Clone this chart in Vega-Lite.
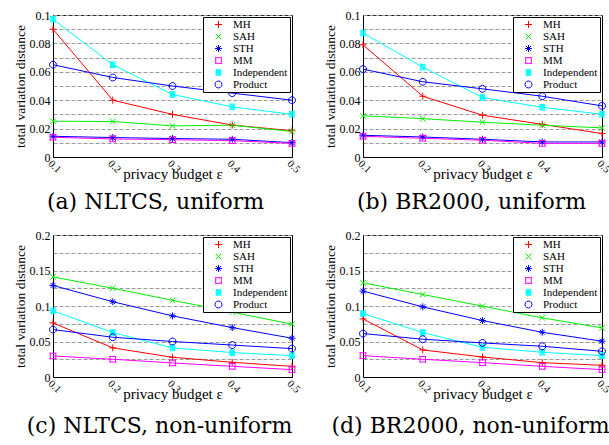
{
  "$schema": "https://vega.github.io/schema/vega-lite/v6.json",
  "background": "white",
  "padding": {"left": 12, "top": 8, "right": 0, "bottom": 0},
  "datasets": {
    "d": [
      {"panel":"a","method":"MH","eps":0.1,"tvd":0.09},
      {"panel":"a","method":"MH","eps":0.2,"tvd":0.040},
      {"panel":"a","method":"MH","eps":0.3,"tvd":0.030},
      {"panel":"a","method":"MH","eps":0.4,"tvd":0.0225},
      {"panel":"a","method":"MH","eps":0.5,"tvd":0.0185},
      {"panel":"a","method":"SAH","eps":0.1,"tvd":0.0252},
      {"panel":"a","method":"SAH","eps":0.2,"tvd":0.0250},
      {"panel":"a","method":"SAH","eps":0.3,"tvd":0.0219},
      {"panel":"a","method":"SAH","eps":0.4,"tvd":0.0224},
      {"panel":"a","method":"SAH","eps":0.5,"tvd":0.018},
      {"panel":"a","method":"STH","eps":0.1,"tvd":0.0146},
      {"panel":"a","method":"STH","eps":0.2,"tvd":0.0137},
      {"panel":"a","method":"STH","eps":0.3,"tvd":0.0130},
      {"panel":"a","method":"STH","eps":0.4,"tvd":0.0125},
      {"panel":"a","method":"STH","eps":0.5,"tvd":0.0101},
      {"panel":"a","method":"MM","eps":0.1,"tvd":0.0139},
      {"panel":"a","method":"MM","eps":0.2,"tvd":0.0127},
      {"panel":"a","method":"MM","eps":0.3,"tvd":0.0122},
      {"panel":"a","method":"MM","eps":0.4,"tvd":0.0115},
      {"panel":"a","method":"MM","eps":0.5,"tvd":0.0096},
      {"panel":"a","method":"Independent","eps":0.1,"tvd":0.097},
      {"panel":"a","method":"Independent","eps":0.2,"tvd":0.065},
      {"panel":"a","method":"Independent","eps":0.3,"tvd":0.044},
      {"panel":"a","method":"Independent","eps":0.4,"tvd":0.0353},
      {"panel":"a","method":"Independent","eps":0.5,"tvd":0.0301},
      {"panel":"a","method":"Product","eps":0.1,"tvd":0.065},
      {"panel":"a","method":"Product","eps":0.2,"tvd":0.056},
      {"panel":"a","method":"Product","eps":0.3,"tvd":0.050},
      {"panel":"a","method":"Product","eps":0.4,"tvd":0.045},
      {"panel":"a","method":"Product","eps":0.5,"tvd":0.040},

      {"panel":"b","method":"MH","eps":0.1,"tvd":0.079},
      {"panel":"b","method":"MH","eps":0.2,"tvd":0.0428},
      {"panel":"b","method":"MH","eps":0.3,"tvd":0.0294},
      {"panel":"b","method":"MH","eps":0.4,"tvd":0.023},
      {"panel":"b","method":"MH","eps":0.5,"tvd":0.0165},
      {"panel":"b","method":"SAH","eps":0.1,"tvd":0.029},
      {"panel":"b","method":"SAH","eps":0.2,"tvd":0.027},
      {"panel":"b","method":"SAH","eps":0.3,"tvd":0.0245},
      {"panel":"b","method":"SAH","eps":0.4,"tvd":0.0224},
      {"panel":"b","method":"SAH","eps":0.5,"tvd":0.0205},
      {"panel":"b","method":"STH","eps":0.1,"tvd":0.0153},
      {"panel":"b","method":"STH","eps":0.2,"tvd":0.0141},
      {"panel":"b","method":"STH","eps":0.3,"tvd":0.0125},
      {"panel":"b","method":"STH","eps":0.4,"tvd":0.0106},
      {"panel":"b","method":"STH","eps":0.5,"tvd":0.0106},
      {"panel":"b","method":"MM","eps":0.1,"tvd":0.0146},
      {"panel":"b","method":"MM","eps":0.2,"tvd":0.0132},
      {"panel":"b","method":"MM","eps":0.3,"tvd":0.0118},
      {"panel":"b","method":"MM","eps":0.4,"tvd":0.0096},
      {"panel":"b","method":"MM","eps":0.5,"tvd":0.0096},
      {"panel":"b","method":"Independent","eps":0.1,"tvd":0.0873},
      {"panel":"b","method":"Independent","eps":0.2,"tvd":0.0633},
      {"panel":"b","method":"Independent","eps":0.3,"tvd":0.0419},
      {"panel":"b","method":"Independent","eps":0.4,"tvd":0.035},
      {"panel":"b","method":"Independent","eps":0.5,"tvd":0.0301},
      {"panel":"b","method":"Product","eps":0.1,"tvd":0.0619},
      {"panel":"b","method":"Product","eps":0.2,"tvd":0.053},
      {"panel":"b","method":"Product","eps":0.3,"tvd":0.048},
      {"panel":"b","method":"Product","eps":0.4,"tvd":0.0428},
      {"panel":"b","method":"Product","eps":0.5,"tvd":0.036},

      {"panel":"c","method":"MH","eps":0.1,"tvd":0.0762},
      {"panel":"c","method":"MH","eps":0.2,"tvd":0.041},
      {"panel":"c","method":"MH","eps":0.3,"tvd":0.0278},
      {"panel":"c","method":"MH","eps":0.4,"tvd":0.0207},
      {"panel":"c","method":"MH","eps":0.5,"tvd":0.015},
      {"panel":"c","method":"SAH","eps":0.1,"tvd":0.141},
      {"panel":"c","method":"SAH","eps":0.2,"tvd":0.125},
      {"panel":"c","method":"SAH","eps":0.3,"tvd":0.108},
      {"panel":"c","method":"SAH","eps":0.4,"tvd":0.0913},
      {"panel":"c","method":"SAH","eps":0.5,"tvd":0.0744},
      {"panel":"c","method":"STH","eps":0.1,"tvd":0.129},
      {"panel":"c","method":"STH","eps":0.2,"tvd":0.106},
      {"panel":"c","method":"STH","eps":0.3,"tvd":0.0861},
      {"panel":"c","method":"STH","eps":0.4,"tvd":0.0696},
      {"panel":"c","method":"STH","eps":0.5,"tvd":0.0546},
      {"panel":"c","method":"MM","eps":0.1,"tvd":0.0296},
      {"panel":"c","method":"MM","eps":0.2,"tvd":0.025},
      {"panel":"c","method":"MM","eps":0.3,"tvd":0.0198},
      {"panel":"c","method":"MM","eps":0.4,"tvd":0.015},
      {"panel":"c","method":"MM","eps":0.5,"tvd":0.0104},
      {"panel":"c","method":"Independent","eps":0.1,"tvd":0.0932},
      {"panel":"c","method":"Independent","eps":0.2,"tvd":0.0626},
      {"panel":"c","method":"Independent","eps":0.3,"tvd":0.041},
      {"panel":"c","method":"Independent","eps":0.4,"tvd":0.0344},
      {"panel":"c","method":"Independent","eps":0.5,"tvd":0.0301},
      {"panel":"c","method":"Product","eps":0.1,"tvd":0.0668},
      {"panel":"c","method":"Product","eps":0.2,"tvd":0.056},
      {"panel":"c","method":"Product","eps":0.3,"tvd":0.050},
      {"panel":"c","method":"Product","eps":0.4,"tvd":0.045},
      {"panel":"c","method":"Product","eps":0.5,"tvd":0.040},

      {"panel":"d","method":"MH","eps":0.1,"tvd":0.0819},
      {"panel":"d","method":"MH","eps":0.2,"tvd":0.0381},
      {"panel":"d","method":"MH","eps":0.3,"tvd":0.0282},
      {"panel":"d","method":"MH","eps":0.4,"tvd":0.0202},
      {"panel":"d","method":"MH","eps":0.5,"tvd":0.0165},
      {"panel":"d","method":"SAH","eps":0.1,"tvd":0.1327},
      {"panel":"d","method":"SAH","eps":0.2,"tvd":0.1162},
      {"panel":"d","method":"SAH","eps":0.3,"tvd":0.0998},
      {"panel":"d","method":"SAH","eps":0.4,"tvd":0.0833},
      {"panel":"d","method":"SAH","eps":0.5,"tvd":0.0692},
      {"panel":"d","method":"STH","eps":0.1,"tvd":0.121},
      {"panel":"d","method":"STH","eps":0.2,"tvd":0.0988},
      {"panel":"d","method":"STH","eps":0.3,"tvd":0.0795},
      {"panel":"d","method":"STH","eps":0.4,"tvd":0.063},
      {"panel":"d","method":"STH","eps":0.5,"tvd":0.0504},
      {"panel":"d","method":"MM","eps":0.1,"tvd":0.0301},
      {"panel":"d","method":"MM","eps":0.2,"tvd":0.025},
      {"panel":"d","method":"MM","eps":0.3,"tvd":0.0202},
      {"panel":"d","method":"MM","eps":0.4,"tvd":0.015},
      {"panel":"d","method":"MM","eps":0.5,"tvd":0.0104},
      {"panel":"d","method":"Independent","eps":0.1,"tvd":0.0894},
      {"panel":"d","method":"Independent","eps":0.2,"tvd":0.0626},
      {"panel":"d","method":"Independent","eps":0.3,"tvd":0.0419},
      {"panel":"d","method":"Independent","eps":0.4,"tvd":0.0348},
      {"panel":"d","method":"Independent","eps":0.5,"tvd":0.0301},
      {"panel":"d","method":"Product","eps":0.1,"tvd":0.0612},
      {"panel":"d","method":"Product","eps":0.2,"tvd":0.0532},
      {"panel":"d","method":"Product","eps":0.3,"tvd":0.048},
      {"panel":"d","method":"Product","eps":0.4,"tvd":0.0433},
      {"panel":"d","method":"Product","eps":0.5,"tvd":0.0362}
    ]
  },
  "config": {
    "font": "Liberation Serif",
    "view": {"stroke": "black", "strokeWidth": 1},
    "axis": {
      "labelFont": "Liberation Serif", "labelFontSize": 12, "labelColor": "black",
      "titleFont": "Liberation Serif", "titleFontSize": 13.5, "titleFontWeight": "normal", "titleColor": "black",
      "domainColor": "black", "ticks": false, "labelPadding": 3,
      "gridColor": "#9a9a9a", "gridDash": [4, 2], "gridWidth": 1
    },
    "legend": {
      "orient": "top-right", "offset": 2, "padding": 2,
      "strokeColor": "black", "fillColor": "white",
      "labelFont": "Liberation Serif", "labelFontSize": 11, "labelColor": "black",
      "rowPadding": 0, "symbolSize": 49, "symbolOffset": 8, "labelOffset": 9,
      "symbolStrokeWidth": 1
    },
    "title": {"font": "DejaVu Serif", "fontSize": 22, "fontWeight": "normal", "color": "black", "orient": "bottom", "offset": 10}
  },
  "resolve": {"scale": {"color": "independent", "shape": "independent", "y": "independent", "x": "independent"}, "legend": {"color": "independent", "shape": "independent"}},
  "spacing": 14,
  "vconcat": [
    {
      "resolve": {"scale": {"color": "independent", "shape": "independent", "y": "independent", "x": "independent"}, "legend": {"color": "independent", "shape": "independent"}},
      "spacing": 20,
      "hconcat": [
        {
          "width": 239, "height": 142,
          "title": {"text": "(a) NLTCS, uniform", "dx": -17},
          "data": {"name": "d"},
          "transform": [{"filter": "datum.panel === 'a'"}],
          "encoding": {
            "x": {"field": "eps", "type": "quantitative", "scale": {"domain": [0.1, 0.5], "nice": false, "zero": false},
                  "axis": {"title": "privacy budget ε", "values": [0.1, 0.2, 0.3, 0.4, 0.5], "grid": false, "labelAngle": 45, "labelFontSize": 10.5, "labelPadding": 1, "titleFontSize": 15, "titlePadding": -8}},
            "y": {"field": "tvd", "type": "quantitative", "scale": {"domain": [0, 0.1], "nice": false},
                  "axis": {"title": "total variation distance", "values": [0, 0.01, 0.02, 0.03, 0.04, 0.05, 0.06, 0.07, 0.08, 0.09, 0.1],
                           "labelExpr": "round(datum.value * 100) % 2 == 0 ? format(datum.value, '~g') : ''", "titlePadding": 2}},
            "color": {"field": "method", "type": "nominal",
                      "scale": {"domain": ["MH", "SAH", "STH", "MM", "Independent", "Product"], "range": ["#ff0000", "#00ee00", "#0000ff", "#ff00ff", "#00ffff", "#0000ff"]},
                      "legend": {"title": null}},
            "shape": {"field": "method", "type": "nominal",
                      "scale": {"domain": ["MH", "SAH", "STH", "MM", "Independent", "Product"],
                                "range": ["M-1,0H1M0,-1V1", "M-0.8,-0.8L0.8,0.8M-0.8,0.8L0.8,-0.8", "M-1,0H1M0,-1V1M-0.7,-0.7L0.7,0.7M-0.7,0.7L0.7,-0.7", "M-0.95,-0.8H0.95M0.8,-0.95V0.95M0.95,0.8H-0.95M-0.8,0.95V-0.95", "M-0.8,-0.8H0.8M-0.8,-0.53H0.8M-0.8,-0.27H0.8M-0.8,0H0.8M-0.8,0.27H0.8M-0.8,0.53H0.8M-0.8,0.8H0.8", "M1,0L0.866,0.5M0.866,0.5L0.5,0.866M0.5,0.866L0,1M0,1L-0.5,0.866M-0.5,0.866L-0.866,0.5M-0.866,0.5L-1,0M-1,0L-0.866,-0.5M-0.866,-0.5L-0.5,-0.866M-0.5,-0.866L0,-1M0,-1L0.5,-0.866M0.5,-0.866L0.866,-0.5M0.866,-0.5L1,0"]},
                      "legend": {"title": null}}
          },
          "layer": [
            {"mark": {"type": "line", "strokeWidth": 1}},
            {"mark": {"type": "point", "filled": false, "size": 49, "strokeWidth": 1, "opacity": 1}}
          ]
        },
        {
          "width": 239, "height": 142,
          "title": {"text": "(b) BR2000, uniform", "dx": -11},
          "data": {"name": "d"},
          "transform": [{"filter": "datum.panel === 'b'"}],
          "encoding": {
            "x": {"field": "eps", "type": "quantitative", "scale": {"domain": [0.1, 0.5], "nice": false, "zero": false},
                  "axis": {"title": "privacy budget ε", "values": [0.1, 0.2, 0.3, 0.4, 0.5], "grid": false, "labelAngle": 45, "labelFontSize": 10.5, "labelPadding": 1, "titleFontSize": 15, "titlePadding": -8}},
            "y": {"field": "tvd", "type": "quantitative", "scale": {"domain": [0, 0.1], "nice": false},
                  "axis": {"title": "total variation distance", "values": [0, 0.01, 0.02, 0.03, 0.04, 0.05, 0.06, 0.07, 0.08, 0.09, 0.1],
                           "labelExpr": "round(datum.value * 100) % 2 == 0 ? format(datum.value, '~g') : ''", "titlePadding": 2}},
            "color": {"field": "method", "type": "nominal",
                      "scale": {"domain": ["MH", "SAH", "STH", "MM", "Independent", "Product"], "range": ["#ff0000", "#00ee00", "#0000ff", "#ff00ff", "#00ffff", "#0000ff"]},
                      "legend": {"title": null}},
            "shape": {"field": "method", "type": "nominal",
                      "scale": {"domain": ["MH", "SAH", "STH", "MM", "Independent", "Product"],
                                "range": ["M-1,0H1M0,-1V1", "M-0.8,-0.8L0.8,0.8M-0.8,0.8L0.8,-0.8", "M-1,0H1M0,-1V1M-0.7,-0.7L0.7,0.7M-0.7,0.7L0.7,-0.7", "M-0.95,-0.8H0.95M0.8,-0.95V0.95M0.95,0.8H-0.95M-0.8,0.95V-0.95", "M-0.8,-0.8H0.8M-0.8,-0.53H0.8M-0.8,-0.27H0.8M-0.8,0H0.8M-0.8,0.27H0.8M-0.8,0.53H0.8M-0.8,0.8H0.8", "M1,0L0.866,0.5M0.866,0.5L0.5,0.866M0.5,0.866L0,1M0,1L-0.5,0.866M-0.5,0.866L-0.866,0.5M-0.866,0.5L-1,0M-1,0L-0.866,-0.5M-0.866,-0.5L-0.5,-0.866M-0.5,-0.866L0,-1M0,-1L0.5,-0.866M0.5,-0.866L0.866,-0.5M0.866,-0.5L1,0"]},
                      "legend": {"title": null}}
          },
          "layer": [
            {"mark": {"type": "line", "strokeWidth": 1}},
            {"mark": {"type": "point", "filled": false, "size": 49, "strokeWidth": 1, "opacity": 1}}
          ]
        }
      ]
    },
    {
      "resolve": {"scale": {"color": "independent", "shape": "independent", "y": "independent", "x": "independent"}, "legend": {"color": "independent", "shape": "independent"}},
      "spacing": 20,
      "hconcat": [
        {
          "width": 239, "height": 142,
          "title": {"text": "(c) NLTCS, non-uniform", "dx": -13, "offset": 14},
          "data": {"name": "d"},
          "transform": [{"filter": "datum.panel === 'c'"}],
          "encoding": {
            "x": {"field": "eps", "type": "quantitative", "scale": {"domain": [0.1, 0.5], "nice": false, "zero": false},
                  "axis": {"title": "privacy budget ε", "values": [0.1, 0.2, 0.3, 0.4, 0.5], "grid": false, "labelAngle": 45, "labelFontSize": 10.5, "labelPadding": 1, "titleFontSize": 15, "titlePadding": -8}},
            "y": {"field": "tvd", "type": "quantitative", "scale": {"domain": [0, 0.2], "nice": false},
                  "axis": {"title": "total variation distance", "values": [0, 0.025, 0.05, 0.075, 0.1, 0.125, 0.15, 0.175, 0.2],
                           "labelExpr": "round(datum.value * 1000) % 50 == 0 ? format(datum.value, '~g') : ''", "titlePadding": 2}},
            "color": {"field": "method", "type": "nominal",
                      "scale": {"domain": ["MH", "SAH", "STH", "MM", "Independent", "Product"], "range": ["#ff0000", "#00ee00", "#0000ff", "#ff00ff", "#00ffff", "#0000ff"]},
                      "legend": {"title": null}},
            "shape": {"field": "method", "type": "nominal",
                      "scale": {"domain": ["MH", "SAH", "STH", "MM", "Independent", "Product"],
                                "range": ["M-1,0H1M0,-1V1", "M-0.8,-0.8L0.8,0.8M-0.8,0.8L0.8,-0.8", "M-1,0H1M0,-1V1M-0.7,-0.7L0.7,0.7M-0.7,0.7L0.7,-0.7", "M-0.95,-0.8H0.95M0.8,-0.95V0.95M0.95,0.8H-0.95M-0.8,0.95V-0.95", "M-0.8,-0.8H0.8M-0.8,-0.53H0.8M-0.8,-0.27H0.8M-0.8,0H0.8M-0.8,0.27H0.8M-0.8,0.53H0.8M-0.8,0.8H0.8", "M1,0L0.866,0.5M0.866,0.5L0.5,0.866M0.5,0.866L0,1M0,1L-0.5,0.866M-0.5,0.866L-0.866,0.5M-0.866,0.5L-1,0M-1,0L-0.866,-0.5M-0.866,-0.5L-0.5,-0.866M-0.5,-0.866L0,-1M0,-1L0.5,-0.866M0.5,-0.866L0.866,-0.5M0.866,-0.5L1,0"]},
                      "legend": {"title": null}}
          },
          "layer": [
            {"mark": {"type": "line", "strokeWidth": 1}},
            {"mark": {"type": "point", "filled": false, "size": 49, "strokeWidth": 1, "opacity": 1}}
          ]
        },
        {
          "width": 239, "height": 142,
          "title": {"text": "(d) BR2000, non-uniform", "dx": -12, "offset": 14},
          "data": {"name": "d"},
          "transform": [{"filter": "datum.panel === 'd'"}],
          "encoding": {
            "x": {"field": "eps", "type": "quantitative", "scale": {"domain": [0.1, 0.5], "nice": false, "zero": false},
                  "axis": {"title": "privacy budget ε", "values": [0.1, 0.2, 0.3, 0.4, 0.5], "grid": false, "labelAngle": 45, "labelFontSize": 10.5, "labelPadding": 1, "titleFontSize": 15, "titlePadding": -8}},
            "y": {"field": "tvd", "type": "quantitative", "scale": {"domain": [0, 0.2], "nice": false},
                  "axis": {"title": "total variation distance", "values": [0, 0.025, 0.05, 0.075, 0.1, 0.125, 0.15, 0.175, 0.2],
                           "labelExpr": "round(datum.value * 1000) % 50 == 0 ? format(datum.value, '~g') : ''", "titlePadding": 2}},
            "color": {"field": "method", "type": "nominal",
                      "scale": {"domain": ["MH", "SAH", "STH", "MM", "Independent", "Product"], "range": ["#ff0000", "#00ee00", "#0000ff", "#ff00ff", "#00ffff", "#0000ff"]},
                      "legend": {"title": null}},
            "shape": {"field": "method", "type": "nominal",
                      "scale": {"domain": ["MH", "SAH", "STH", "MM", "Independent", "Product"],
                                "range": ["M-1,0H1M0,-1V1", "M-0.8,-0.8L0.8,0.8M-0.8,0.8L0.8,-0.8", "M-1,0H1M0,-1V1M-0.7,-0.7L0.7,0.7M-0.7,0.7L0.7,-0.7", "M-0.95,-0.8H0.95M0.8,-0.95V0.95M0.95,0.8H-0.95M-0.8,0.95V-0.95", "M-0.8,-0.8H0.8M-0.8,-0.53H0.8M-0.8,-0.27H0.8M-0.8,0H0.8M-0.8,0.27H0.8M-0.8,0.53H0.8M-0.8,0.8H0.8", "M1,0L0.866,0.5M0.866,0.5L0.5,0.866M0.5,0.866L0,1M0,1L-0.5,0.866M-0.5,0.866L-0.866,0.5M-0.866,0.5L-1,0M-1,0L-0.866,-0.5M-0.866,-0.5L-0.5,-0.866M-0.5,-0.866L0,-1M0,-1L0.5,-0.866M0.5,-0.866L0.866,-0.5M0.866,-0.5L1,0"]},
                      "legend": {"title": null}}
          },
          "layer": [
            {"mark": {"type": "line", "strokeWidth": 1}},
            {"mark": {"type": "point", "filled": false, "size": 49, "strokeWidth": 1, "opacity": 1}}
          ]
        }
      ]
    }
  ]
}
